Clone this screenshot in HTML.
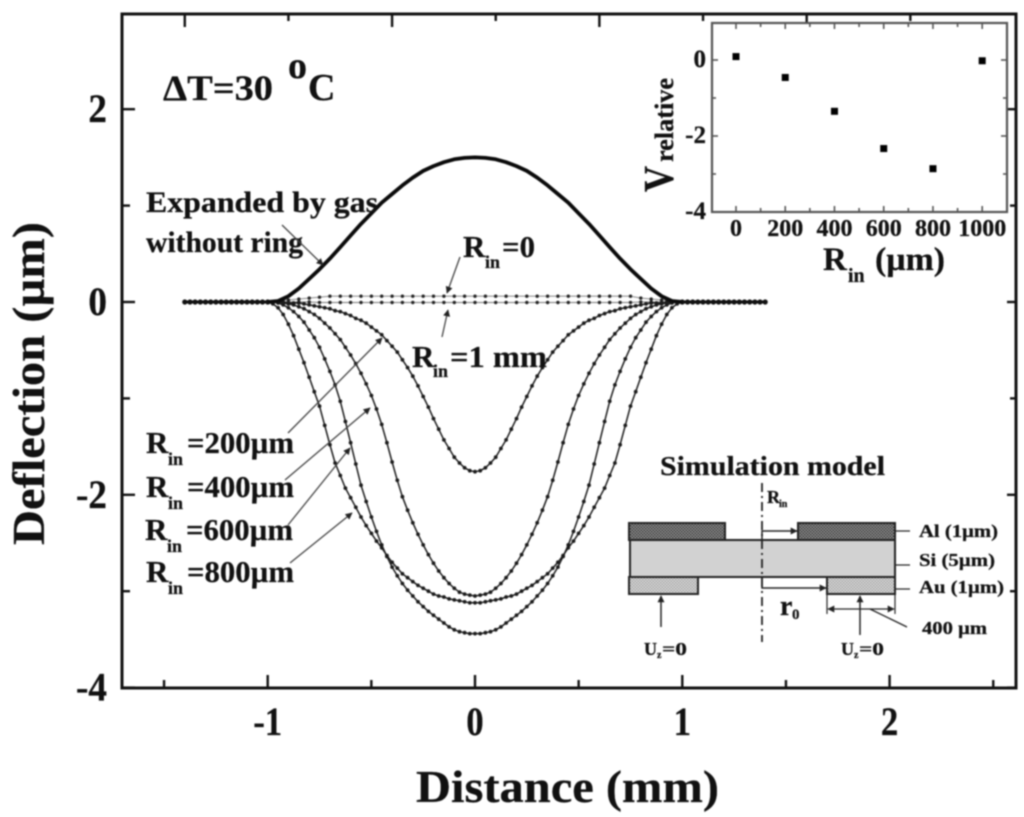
<!DOCTYPE html>
<html lang="en">
<head>
<meta charset="utf-8">
<title>Deflection vs Distance</title>
<style>
html,body{margin:0;padding:0;background:#fff;}
#chart{display:block;width:1024px;height:817px;filter:blur(0.7px);}
text{font-family:"Liberation Serif",serif;font-weight:bold;fill:#111;stroke:#111;stroke-width:0.25px;}
</style>
</head>
<body>
<svg id="chart" xmlns="http://www.w3.org/2000/svg" width="1024" height="817" viewBox="0 0 1024 817">
<defs>
<pattern id="hatchDark" width="3" height="3" patternUnits="userSpaceOnUse"><rect width="3" height="3" fill="#a0a0a0"/><rect width="1.5" height="1.5" fill="#333"/><rect x="1.5" y="1.5" width="1.5" height="1.5" fill="#333"/></pattern>
<pattern id="hatchLight" width="3" height="3" patternUnits="userSpaceOnUse"><rect width="3" height="3" fill="#e2e2e2"/><rect width="1.5" height="1.5" fill="#a0a0a0"/><rect x="1.5" y="1.5" width="1.5" height="1.5" fill="#a0a0a0"/></pattern>
<marker id="head" viewBox="0 0 10 10" refX="9" refY="5" markerWidth="9" markerHeight="7" markerUnits="userSpaceOnUse" orient="auto"><path d="M0 0L10 5L0 10Z" fill="#222"/></marker>
<marker id="headStart" viewBox="0 0 10 10" refX="1" refY="5" markerWidth="9" markerHeight="7" markerUnits="userSpaceOnUse" orient="auto"><path d="M10 0L0 5L10 10Z" fill="#222"/></marker>
</defs>
<rect width="1024" height="817" fill="#fff"/>
<g id="mainTicks"></g>
<g id="mainLabels"></g>
<g id="series"></g>
<rect x="122" y="14" width="894" height="674" fill="none" stroke="#111" stroke-width="3"/>
<text x="416" y="802" font-size="46" textLength="303" lengthAdjust="spacingAndGlyphs">Distance (mm)</text>
<text transform="translate(44 545) rotate(-90)" font-size="46" textLength="323" lengthAdjust="spacingAndGlyphs">Deflection (µm)</text>
<g>
<text x="163" y="100" font-size="36" textLength="110" lengthAdjust="spacingAndGlyphs">ΔT=30</text>
<text x="288" y="78" font-size="38">o</text>
<text x="308" y="100" font-size="38">C</text>
</g>
<g>
<text x="146" y="212" font-size="30" textLength="232" lengthAdjust="spacingAndGlyphs">Expanded by gas</text>
<text x="146" y="252" font-size="30" textLength="157" lengthAdjust="spacingAndGlyphs">without ring</text>
<g font-size="31">
<text x="463" y="257">R</text><text x="485" y="268" font-size="18">in</text><text x="502" y="257" textLength="33" lengthAdjust="spacingAndGlyphs">=0</text>
<text x="412" y="367">R</text><text x="433" y="377" font-size="18">in</text><text x="450" y="367" textLength="97" lengthAdjust="spacingAndGlyphs">=1 mm</text>
<text x="146" y="453">R</text><text x="168" y="465" font-size="18">in</text><text x="187" y="453" textLength="107" lengthAdjust="spacingAndGlyphs">=200µm</text>
<text x="146" y="497">R</text><text x="168" y="509" font-size="18">in</text><text x="187" y="497" textLength="107" lengthAdjust="spacingAndGlyphs">=400µm</text>
<text x="145" y="540">R</text><text x="167" y="552" font-size="18">in</text><text x="186" y="540" textLength="107" lengthAdjust="spacingAndGlyphs">=600µm</text>
<text x="146" y="582">R</text><text x="168" y="594" font-size="18">in</text><text x="187" y="582" textLength="107" lengthAdjust="spacingAndGlyphs">=800µm</text>
</g>
<g fill="none" stroke="#444" stroke-width="1.3">
<line x1="282" y1="225" x2="323" y2="265" marker-end="url(#head)"/>
<line x1="460" y1="257" x2="447" y2="293" marker-end="url(#head)"/>
<line x1="442" y1="337" x2="448" y2="310" marker-end="url(#head)"/>
<line x1="288" y1="433" x2="382" y2="338" marker-end="url(#head)"/>
<line x1="285" y1="480" x2="370" y2="408" marker-end="url(#head)"/>
<line x1="288" y1="525" x2="350" y2="448" marker-end="url(#head)"/>
<line x1="290" y1="563" x2="352" y2="513" marker-end="url(#head)"/>
</g>
</g>
<g>
<rect x="712" y="23" width="295" height="189" fill="#fff"/>
<g id="insetTicks"></g>
<rect x="712" y="23" width="295" height="189" fill="none" stroke="#555" stroke-width="2.2"/>
<g id="insetLabels"></g>
<g id="insetPoints"></g>
<text x="823" y="270" font-size="33">R</text>
<text x="848" y="282" font-size="20">in</text>
<text x="875" y="270" font-size="33" textLength="70" lengthAdjust="spacingAndGlyphs">(µm)</text>
<text transform="translate(673 192) rotate(-90)" font-size="42" textLength="26" lengthAdjust="spacingAndGlyphs">V</text>
<text transform="translate(673 162) rotate(-90)" font-size="26" textLength="84" lengthAdjust="spacingAndGlyphs">relative</text>
</g>
<g>
<text x="660" y="475" font-size="27" textLength="225" lengthAdjust="spacingAndGlyphs">Simulation model</text>
<rect x="629" y="523" width="96" height="17" fill="url(#hatchDark)" stroke="#222" stroke-width="2"/>
<rect x="798" y="523" width="97" height="17" fill="url(#hatchDark)" stroke="#222" stroke-width="2"/>
<rect x="630" y="540" width="265" height="37" fill="#d2d2d2" stroke="#222" stroke-width="2"/>
<rect x="629" y="577" width="69" height="17" fill="url(#hatchLight)" stroke="#222" stroke-width="2"/>
<rect x="827" y="577" width="68" height="17" fill="url(#hatchLight)" stroke="#222" stroke-width="2"/>
<rect x="763" y="532" width="34" height="7" fill="#fff"/>
<line x1="762" y1="483" x2="762" y2="642" stroke="#222" stroke-width="1.8" stroke-dasharray="9 4 2 4"/>
<path d="M762 540V531H797" fill="none" stroke="#222" stroke-width="1.5" marker-end="url(#head)"/>
<path d="M762 577V588H826" fill="none" stroke="#222" stroke-width="1.5" marker-end="url(#head)"/>
<line x1="661" y1="627" x2="661" y2="596" stroke="#222" stroke-width="1.5" marker-end="url(#head)"/>
<line x1="860" y1="635" x2="860" y2="596" stroke="#222" stroke-width="1.5" marker-end="url(#head)"/>
<path d="M827 594V614M895 594V614" fill="none" stroke="#222" stroke-width="1.2"/>
<line x1="828" y1="609" x2="894" y2="609" stroke="#222" stroke-width="1.3" marker-start="url(#headStart)" marker-end="url(#head)"/>
<path d="M870 609L907 627M895 531H910M895 565H910M895 589H910" fill="none" stroke="#222" stroke-width="1.3"/>
<text x="767" y="503" font-size="18">R</text>
<text x="779" y="507" font-size="10">in</text>
<text x="780" y="615" font-size="28">r</text>
<text x="792" y="619" font-size="15">0</text>
<text x="919" y="537" font-size="18" textLength="79" lengthAdjust="spacingAndGlyphs">Al (1µm)</text>
<text x="919" y="566" font-size="18" textLength="76" lengthAdjust="spacingAndGlyphs">Si (5µm)</text>
<text x="919" y="593" font-size="18" textLength="85" lengthAdjust="spacingAndGlyphs">Au (1µm)</text>
<text x="922" y="634" font-size="18" textLength="65" lengthAdjust="spacingAndGlyphs">400 µm</text>
<text x="644" y="655" font-size="18">U</text><text x="657" y="658" font-size="10">z</text><text x="662" y="655" font-size="18" textLength="25" lengthAdjust="spacingAndGlyphs">=0</text>
<text x="841" y="655" font-size="18">U</text><text x="854" y="658" font-size="10">z</text><text x="859" y="655" font-size="18" textLength="25" lengthAdjust="spacingAndGlyphs">=0</text>
</g>
</svg>
<script>
var xTickValues = [-1, 0, 1, 2];
var xTickLabels = ["-1", "0", "1", "2"];
var xMinorValues = [-1.5, -0.5, 0.5, 1.5, 2.5];
var topMajorValues = [-1.4, -0.4, 0.6, 1.6];
var topMinorValues = [-0.9, 0.1, 1.1, 2.1];
var yTickValues = [2, 0, -2, -4];
var yTickLabels = ["2", "0", "-2", "-4"];
var yMinorValues = [1, -1, -3];

var distanceMm = [-1,-0.975,-0.95,-0.925,-0.9,-0.875,-0.85,-0.825,-0.8,-0.775,-0.75,-0.725,-0.7,-0.675,-0.65,-0.625,-0.6,-0.575,-0.55,-0.525,-0.5,-0.475,-0.45,-0.425,-0.4,-0.375,-0.35,-0.325,-0.3,-0.275,-0.25,-0.225,-0.2,-0.175,-0.15,-0.125,-0.1,-0.075,-0.05,-0.025,0,0.025,0.05,0.075,0.1,0.125,0.15,0.175,0.2,0.225,0.25,0.275,0.3,0.325,0.35,0.375,0.4,0.425,0.45,0.475,0.5,0.525,0.55,0.575,0.6,0.625,0.65,0.675,0.7,0.725,0.75,0.775,0.8,0.825,0.85,0.875,0.9,0.925,0.95,0.975,1];
var rin200 = [0,0,0,0,-0.01,-0.01,-0.01,-0.02,-0.03,-0.04,-0.05,-0.06,-0.07,-0.09,-0.1,-0.12,-0.14,-0.17,-0.19,-0.22,-0.26,-0.3,-0.34,-0.4,-0.46,-0.52,-0.6,-0.68,-0.77,-0.87,-0.98,-1.09,-1.21,-1.32,-1.43,-1.52,-1.61,-1.67,-1.72,-1.75,-1.76,-1.75,-1.72,-1.67,-1.61,-1.52,-1.43,-1.32,-1.21,-1.09,-0.98,-0.87,-0.77,-0.68,-0.6,-0.52,-0.46,-0.4,-0.34,-0.3,-0.26,-0.22,-0.19,-0.17,-0.14,-0.12,-0.1,-0.09,-0.07,-0.06,-0.05,-0.04,-0.03,-0.02,-0.01,-0.01,-0.01,0,0,0,0];
var rin400 = [0,0,0,-0.01,-0.02,-0.03,-0.05,-0.07,-0.1,-0.13,-0.17,-0.22,-0.27,-0.33,-0.39,-0.47,-0.55,-0.64,-0.74,-0.85,-0.97,-1.11,-1.27,-1.46,-1.66,-1.85,-2.02,-2.16,-2.29,-2.41,-2.52,-2.62,-2.71,-2.79,-2.86,-2.92,-2.97,-3.01,-3.03,-3.04,-3.05,-3.04,-3.03,-3.01,-2.97,-2.92,-2.86,-2.79,-2.71,-2.62,-2.52,-2.41,-2.29,-2.16,-2.02,-1.85,-1.66,-1.46,-1.27,-1.11,-0.97,-0.85,-0.74,-0.64,-0.55,-0.47,-0.39,-0.33,-0.27,-0.22,-0.17,-0.13,-0.1,-0.07,-0.05,-0.03,-0.02,-0.01,0,0,0];
var rin600 = [0,0,-0.01,-0.03,-0.06,-0.1,-0.15,-0.21,-0.29,-0.37,-0.47,-0.59,-0.72,-0.86,-1.03,-1.24,-1.46,-1.68,-1.9,-2.07,-2.23,-2.38,-2.52,-2.64,-2.75,-2.84,-2.92,-2.99,-3.05,-3.11,-3.16,-3.21,-3.25,-3.29,-3.33,-3.37,-3.4,-3.42,-3.43,-3.44,-3.44,-3.44,-3.43,-3.42,-3.4,-3.37,-3.33,-3.29,-3.25,-3.21,-3.16,-3.11,-3.05,-2.99,-2.92,-2.84,-2.75,-2.64,-2.52,-2.38,-2.23,-2.07,-1.9,-1.68,-1.46,-1.24,-1.03,-0.86,-0.72,-0.59,-0.47,-0.37,-0.29,-0.21,-0.15,-0.1,-0.06,-0.03,-0.01,0,0];
var rin800 = [0,-0.02,-0.06,-0.13,-0.23,-0.35,-0.49,-0.63,-0.78,-0.93,-1.08,-1.28,-1.48,-1.67,-1.8,-1.93,-2.03,-2.13,-2.23,-2.32,-2.4,-2.48,-2.55,-2.63,-2.7,-2.76,-2.82,-2.86,-2.9,-2.94,-2.97,-3,-3.03,-3.05,-3.06,-3.08,-3.09,-3.1,-3.11,-3.12,-3.12,-3.12,-3.11,-3.1,-3.09,-3.08,-3.06,-3.05,-3.03,-3,-2.97,-2.94,-2.9,-2.86,-2.82,-2.76,-2.7,-2.63,-2.55,-2.48,-2.4,-2.32,-2.23,-2.13,-2.03,-1.93,-1.8,-1.67,-1.48,-1.28,-1.08,-0.93,-0.78,-0.63,-0.49,-0.35,-0.23,-0.13,-0.06,-0.02,0];

var coarseDistanceMm = [-1,-0.95,-0.9,-0.85,-0.8,-0.75,-0.7,-0.65,-0.6,-0.55,-0.5,-0.45,-0.4,-0.35,-0.3,-0.25,-0.2,-0.15,-0.1,-0.05,0,0.05,0.1,0.15,0.2,0.25,0.3,0.35,0.4,0.45,0.5,0.55,0.6,0.65,0.7,0.75,0.8,0.85,0.9,0.95,1];
var gasExpanded = [0,0.01,0.06,0.14,0.24,0.34,0.45,0.57,0.69,0.81,0.92,1.03,1.12,1.21,1.29,1.36,1.41,1.45,1.48,1.495,1.5,1.495,1.48,1.45,1.41,1.36,1.29,1.21,1.12,1.03,0.92,0.81,0.69,0.57,0.45,0.34,0.24,0.14,0.06,0.01,0];
var rinZero = [0,0.01,0.02,0.03,0.04,0.05,0.06,0.06,0.06,0.06,0.06,0.06,0.06,0.06,0.06,0.06,0.06,0.06,0.06,0.06,0.06,0.06,0.06,0.06,0.06,0.06,0.06,0.06,0.06,0.06,0.06,0.06,0.06,0.06,0.06,0.06,0.04,0.03,0.02,0.01,0];
var rinOneMm = [0,0,0,0,0,-0.005,-0.005,-0.005,-0.005,-0.005,-0.005,-0.005,-0.005,-0.005,-0.005,-0.005,-0.005,-0.005,-0.005,-0.005,-0.005,-0.005,-0.005,-0.005,-0.005,-0.005,-0.005,-0.005,-0.005,-0.005,-0.005,-0.005,-0.005,-0.005,-0.005,-0.005,0,0,0,0,0];

var tailLeftMm = [-1.4,-1.375,-1.35,-1.325,-1.3,-1.275,-1.25,-1.225,-1.2,-1.175,-1.15,-1.125,-1.1,-1.075,-1.05,-1.025,-1];
var tailRightMm = [1,1.025,1.05,1.075,1.1,1.125,1.15,1.175,1.2,1.225,1.25,1.275,1.3,1.325,1.35,1.375,1.4];
var tailValues = [0,0,0,0,0,0,0,0,0,0,0,0,0,0,0,0,0];

var insetRin = [0, 200, 400, 600, 800, 1000];
var insetV = [0.09, -0.46, -1.35, -2.33, -2.86, -0.02];
var insetXMajor = [0, 200, 400, 600, 800, 1000];
var insetXLabels = ["0", "200", "400", "600", "800", "1000"];
var insetXMinor = [100, 300, 500, 700, 900];
var insetYMajor = [0, -2, -4];
var insetYLabels = ["0", "-2", "-4"];
var insetYMinor = [-1, -3];

var NS = 'http://www.w3.org/2000/svg';
function sx(v) { return 475 + 207.3 * v; }
function sy(v) { return 302 - 96.4 * v; }
function ix(v) { return 736 + 0.2462 * v; }
function iy(v) { return 60 - 38 * v; }
function make(tag, parent) {
  var el = document.createElementNS(NS, tag);
  parent.appendChild(el);
  return el;
}
function lineEl(parent, x1, y1, x2, y2, color, width) {
  var l = make('line', parent);
  l.setAttribute('x1', x1);
  l.setAttribute('y1', y1);
  l.setAttribute('x2', x2);
  l.setAttribute('y2', y2);
  l.setAttribute('stroke', color);
  l.setAttribute('stroke-width', width);
  
  
  return l;
}
function textEl(parent, x, y, str, size, anchor) {
  var t = make('text', parent);
  t.setAttribute('x', x);
  t.setAttribute('y', y);
  t.setAttribute('font-size', size);
  t.setAttribute('text-anchor', anchor);
  
  
  t.textContent = str;
  return t;
}
function narrow(t, factor) {
  t.setAttribute('textLength', (t.getComputedTextLength() * factor).toFixed(1));
  t.setAttribute('lengthAdjust', 'spacingAndGlyphs');
}
var mt = document.getElementById('mainTicks');
xTickValues.forEach(function (v) { lineEl(mt, sx(v), 688, sx(v), 675, '#111', 2.4); });
xMinorValues.forEach(function (v) { lineEl(mt, sx(v), 688, sx(v), 680, '#111', 2.4); });
topMajorValues.forEach(function (v) { lineEl(mt, sx(v), 14, sx(v), 27, '#111', 2.4); });
topMinorValues.forEach(function (v) { lineEl(mt, sx(v), 14, sx(v), 21, '#111', 2.4); });
yTickValues.forEach(function (v) {
  lineEl(mt, 122, sy(v), 135, sy(v), '#111', 2.4);
  lineEl(mt, 1016, sy(v), 1007, sy(v), '#111', 2.4);
});
yMinorValues.forEach(function (v) {
  lineEl(mt, 122, sy(v), 130, sy(v), '#111', 2.4);
  lineEl(mt, 1016, sy(v), 1010, sy(v), '#111', 2.4);
});
var ml = document.getElementById('mainLabels');
xTickValues.forEach(function (v, i) { narrow(textEl(ml, sx(v), 735, xTickLabels[i], 40, 'middle'), 0.87); });
yTickValues.forEach(function (v, i) { narrow(textEl(ml, 107, sy(v) + 13, yTickLabels[i], 40, 'end'), 0.93); });

var seriesG = document.getElementById('series');
function drawSeries(name, xs, ys, lineW, color, r, markColor) {
  var g = make('g', seriesG);
  
  
  var p = make('polyline', g);
  p.setAttribute('points', xs.map(function (x, i) { return sx(x).toFixed(1) + ',' + sy(ys[i]).toFixed(1); }).join(' '));
  p.setAttribute('fill', 'none');
  p.setAttribute('stroke', color);
  p.setAttribute('stroke-width', lineW);
  p.setAttribute('stroke-linejoin', 'round');
  
  
  if (r > 0) {
    xs.forEach(function (x, i) {
      var c = make('circle', g);
      c.setAttribute('cx', sx(x).toFixed(1));
      c.setAttribute('cy', sy(ys[i]).toFixed(1));
      c.setAttribute('r', r);
      c.setAttribute('fill', markColor);
      
      
    });
  }
}
drawSeries('series-rin-0', coarseDistanceMm, rinZero, 0.9, '#777', 1.7, '#222');
drawSeries('series-rin-1mm', coarseDistanceMm, rinOneMm, 0.9, '#777', 1.7, '#222');
drawSeries('series-rin-800', distanceMm, rin800, 1.5, '#1a1a1a', 1.9, '#1a1a1a');
drawSeries('series-rin-600', distanceMm, rin600, 1.5, '#1a1a1a', 1.9, '#1a1a1a');
drawSeries('series-rin-400', distanceMm, rin400, 1.5, '#1a1a1a', 1.9, '#1a1a1a');
drawSeries('series-rin-200', distanceMm, rin200, 1.5, '#1a1a1a', 1.9, '#1a1a1a');
drawSeries('series-tail-left', tailLeftMm, tailValues, 3, '#111', 2.6, '#111');
drawSeries('series-tail-right', tailRightMm, tailValues, 3, '#111', 2.6, '#111');
drawSeries('series-gas-expanded', coarseDistanceMm, gasExpanded, 3.8, '#0a0a0a', 0, '#000');

var it = document.getElementById('insetTicks');
insetXMajor.forEach(function (v) {
  lineEl(it, ix(v), 212, ix(v), 206, '#555', 1.6);
  lineEl(it, ix(v), 23, ix(v), 29, '#555', 1.6);
});
insetXMinor.forEach(function (v) {
  lineEl(it, ix(v), 212, ix(v), 208, '#555', 1.6);
  lineEl(it, ix(v), 23, ix(v), 27, '#555', 1.6);
});
insetYMajor.forEach(function (v) {
  lineEl(it, 712, iy(v), 718, iy(v), '#555', 1.6);
  lineEl(it, 1007, iy(v), 1001, iy(v), '#555', 1.6);
});
insetYMinor.forEach(function (v) {
  lineEl(it, 712, iy(v), 716, iy(v), '#555', 1.6);
  lineEl(it, 1007, iy(v), 1003, iy(v), '#555', 1.6);
});
var il = document.getElementById('insetLabels');
insetXMajor.forEach(function (v, i) { textEl(il, ix(v), 236, insetXLabels[i], 24, 'middle'); });
insetYMajor.forEach(function (v, i) { textEl(il, 706, iy(v) + 7, insetYLabels[i], 25, 'end'); });
var ip = document.getElementById('insetPoints');
insetRin.forEach(function (v, i) {
  var s = make('rect', ip);
  s.setAttribute('x', ix(v) - 3.5);
  s.setAttribute('y', iy(insetV[i]) - 3.5);
  s.setAttribute('width', 7);
  s.setAttribute('height', 7);
  s.setAttribute('fill', '#000');
  
  
});
</script>
</body>
</html>
